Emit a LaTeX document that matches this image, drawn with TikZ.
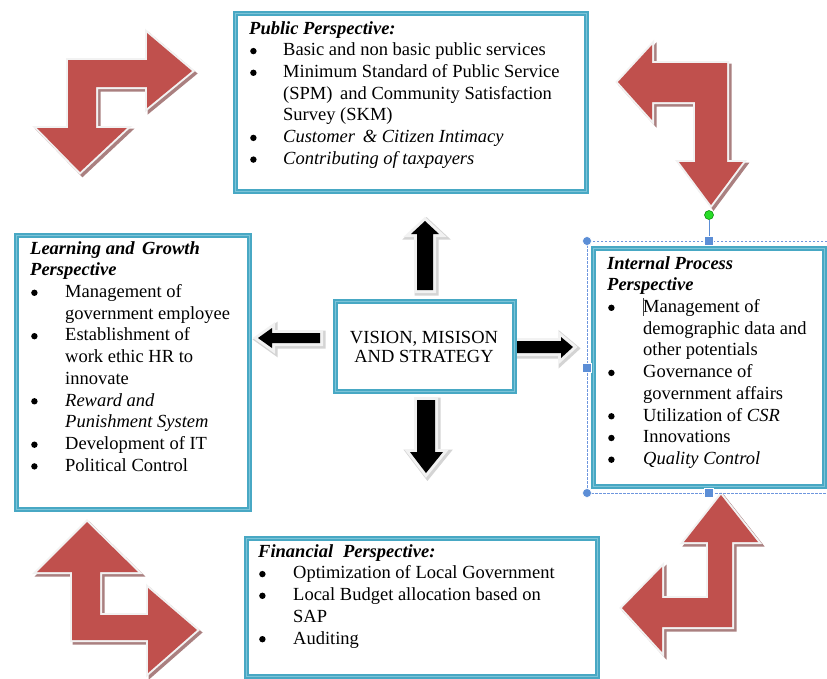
\documentclass[tikz,border=0pt]{standalone}
\usepackage{fontspec}
\setmainfont{Liberation Serif}

\definecolor{frame}{RGB}{72,168,196}
\definecolor{framelight}{RGB}{125,196,216}
\definecolor{brick}{RGB}{192,80,77}
\definecolor{brickshade}{RGB}{170,128,128}
\definecolor{rim}{RGB}{242,242,242}
\definecolor{glow}{RGB}{212,212,212}
\definecolor{handle}{RGB}{92,142,214}
\definecolor{selline}{RGB}{110,150,222}
\definecolor{rotgreen}{RGB}{40,220,40}

% bent block arrow: shade, light rim, red body
\newcommand\bentarrow[1]{%
  \filldraw[brickshade, line width=4pt, line join=miter, shift={(2.5,2.5)}] #1;
  \draw[rim, line width=4pt, line join=miter] #1;
  \fill[brick] #1;}
% straight black block arrow with a soft grey halo
\newcommand\blockarrow[1]{%
  \draw[glow, line width=8pt, line join=miter, shift={(1.5,1.5)}] #1;
  \draw[rim, line width=6pt, line join=miter] #1;
  \fill[black] #1;}
% list bullet: a round dot sitting on the text line
\newcommand\bul{\hspace{1pt}\tikz[baseline=0pt]\fill[black] (3pt,4.8pt) circle (3.2pt);}

\tikzset{
  panel/.style={draw=frame, line width=2.1pt, double=framelight, double distance=0.8pt,
    fill=white, anchor=north west, inner sep=0pt},
  txt/.style={anchor=north west, inner sep=0pt, font=\fontsize{18.5}{21.7}\selectfont},
  sqhandle/.style={draw=white, line width=0.6pt, fill=handle, minimum size=8.5pt,
    inner sep=0pt, rectangle},
  cirhandle/.style={draw=white, line width=0.6pt, fill=handle, minimum size=9pt,
    inner sep=0pt, circle},
}

\begin{document}
\begin{tikzpicture}[x=1pt,y=-1pt]
\useasboundingbox (0,0) rectangle (827,678);
\fill[white] (0,0) rectangle (827,678);

% black arrows radiating from the centre box
\blockarrow{(425,221) -- (439,234) -- (433,234) -- (433,290) -- (417,290) -- (417,234) -- (411,234) -- cycle}
\blockarrow{(426,473) -- (443,452) -- (435,452) -- (435,400) -- (417,400) -- (417,452) -- (410,452) -- cycle}
\blockarrow{(258,338) -- (272,328) -- (272,333) -- (320,333) -- (320,343) -- (272,343) -- (272,348) -- cycle}
\blockarrow{(573,347) -- (561,337) -- (561,341) -- (515,341) -- (515,353) -- (561,353) -- (561,358) -- cycle}

% perspective panels
\node[panel, minimum width=351pt, minimum height=178pt] (public) at (234,12) {};
\node[panel, minimum width=233pt, minimum height=274pt] (learning) at (15,234) {};
\node[panel, minimum width=231pt, minimum height=238pt] (internal) at (592,247) {};
\node[panel, minimum width=351pt, minimum height=138pt] (financial) at (245,537) {};
\node[panel, minimum width=179pt, minimum height=90pt] (vision) at (334,300) {};

\node[txt] (publictext) at (249,18.8) {\begin{tabular}{@{}p{34pt}@{}l@{}}
\multicolumn{2}{@{}l@{}}{\textbf{\textit{Public Perspective:}}}\\
\bul & Basic and non basic public services\\
\bul & Minimum Standard of Public Service\\
 & (SPM)\, and Community Satisfaction\\
 & Survey (SKM)\\
\bul & \textit{Customer\, \& Citizen Intimacy}\\
\bul & \textit{Contributing of taxpayers}
\end{tabular}};

\node[txt] (learningtext) at (30,238.8) {\begin{tabular}{@{}p{35pt}@{}l@{}}
\multicolumn{2}{@{}l@{}}{\textbf{\textit{Learning and\, Growth}}}\\
\multicolumn{2}{@{}l@{}}{\textbf{\textit{Perspective}}}\\
\bul & Management of\\
 & government employee\\
\bul & Establishment of\\
 & work ethic HR to\\
 & innovate\\
\bul & \textit{Reward and}\\
 & \textit{Punishment System}\\
\bul & Development of IT\\
\bul & Political Control
\end{tabular}};

\node[txt] (internaltext) at (607,253.8) {\begin{tabular}{@{}p{36pt}@{}l@{}}
\multicolumn{2}{@{}l@{}}{\textbf{\textit{Internal Process}}}\\
\multicolumn{2}{@{}l@{}}{\textbf{\textit{Perspective}}}\\
\bul & Management of\\
 & demographic data and\\
 & other potentials\\
\bul & Governance of\\
 & government affairs\\
\bul & Utilization of \textit{CSR}\\
\bul & Innovations\\
\bul & \textit{Quality Control}
\end{tabular}};

\node[txt] (financialtext) at (258,541.8) {\begin{tabular}{@{}p{35pt}@{}l@{}}
\multicolumn{2}{@{}l@{}}{\textbf{\textit{Financial\; Perspective:}}}\\
\bul & Optimization of Local Government\\
\bul & Local Budget allocation based on\\
 & SAP\\
\bul & Auditing
\end{tabular}};

\node[anchor=north, inner sep=0pt, align=center, font=\fontsize{18.5}{19.5}\selectfont]
  (visiontext) at (424,329.4) {\strut VISION, MISISON\\AND STRATEGY};

% text cursor
\draw[black!75, line width=1.3pt] (643.5,298) -- (643.5,316);

% red bent arrows in the corners
\bentarrow{(80,172) -- (127,128) -- (96,128) -- (96,87) -- (147,87) -- (147,108) -- (192,71) -- (147,33) -- (147,60) -- (68,60) -- (68,128) -- (37,128) -- cycle}
\bentarrow{(618,82) -- (652,45) -- (652,63) -- (727,63) -- (727,162) -- (743,162) -- (711,205) -- (679,162) -- (695,162) -- (695,102) -- (652,102) -- (652,120) -- cycle}
\bentarrow{(87,522) -- (138,572) -- (100,572) -- (100,615) -- (148,615) -- (148,588) -- (197,630) -- (148,673) -- (148,640) -- (72,640) -- (72,572) -- (37,572) -- cycle}
\bentarrow{(721,495) -- (758,542) -- (732,542) -- (732,627) -- (662,627) -- (662,652) -- (622,608) -- (662,567) -- (662,598) -- (708,598) -- (708,542) -- (684,542) -- cycle}

% selection frame around the internal process panel
\draw[selline, line width=1pt, dash pattern=on 2.5pt off 1.5pt]
  (827,241) -- (587,241) -- (587,493) -- (827,493);
\node[circle, fill=rotgreen, draw=green!50!black, line width=0.5pt, minimum size=9pt, inner sep=0pt] (rot) at (709,215) {};
\node[sqhandle] (htop) at (709,241) {};
\draw[handle, line width=1pt] (rot) -- (htop);
\node[cirhandle] (htl) at (587,241) {};
\node[sqhandle] (hleft) at (587,368) {};
\node[cirhandle] (hbl) at (587,493) {};
\node[sqhandle] (hbot) at (709,493) {};
\end{tikzpicture}
\end{document}
